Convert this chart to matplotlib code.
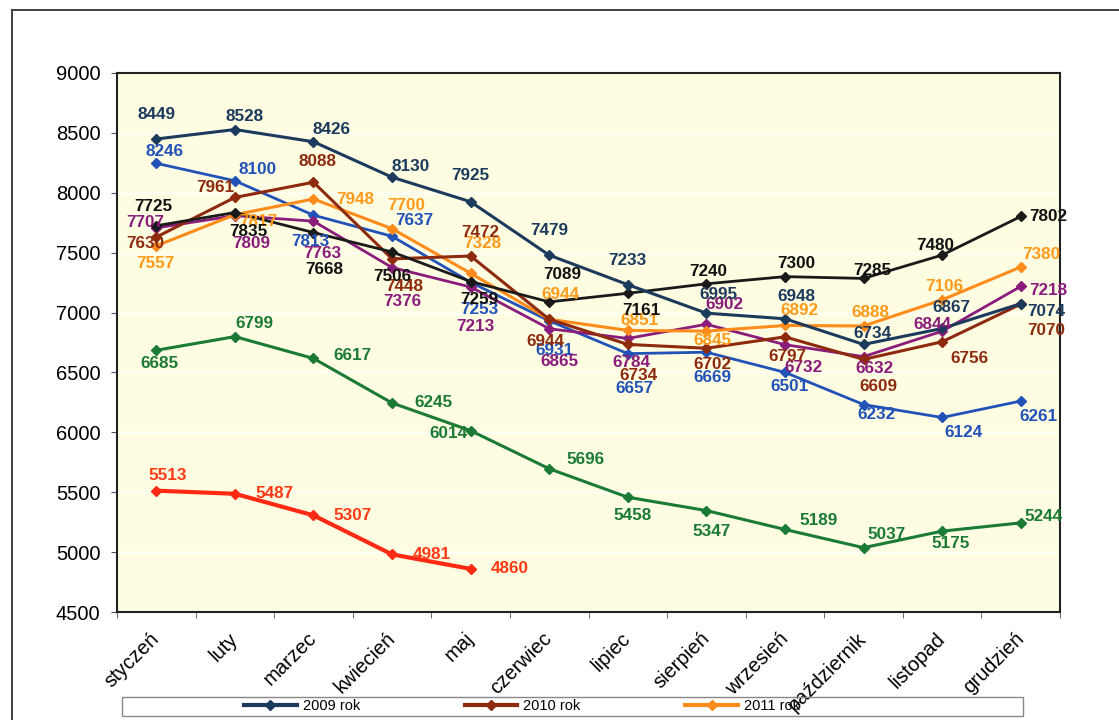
import matplotlib.pyplot as plt
from matplotlib.lines import Line2D
from matplotlib.patches import Rectangle

plt.rcParams['font.family'] = ['Liberation Sans', 'DejaVu Sans']

months = ["styczeń", "luty", "marzec", "kwiecień", "maj", "czerwiec", "lipiec",
          "sierpień", "wrzesień", "październik", "listopad", "grudzień"]

navy_2009 = [8449, 8528, 8426, 8130, 7925, 7479, 7233, 6995, 6948, 6734, 6867, 7074]
brown_2010 = [7630, 7961, 8088, 7448, 7472, 6944, 6734, 6702, 6797, 6609, 6756, 7070]
orange_2011 = [7557, 7817, 7948, 7700, 7328, 6944, 6851, 6845, 6892, 6888, 7106, 7380]
black_s = [7725, 7835, 7668, 7506, 7259, 7089, 7161, 7240, 7300, 7285, 7480, 7802]
blue_s = [8246, 8100, 7813, 7637, 7253, 6931, 6657, 6669, 6501, 6232, 6124, 6261]
purple_s = [7707, 7809, 7763, 7376, 7213, 6865, 6784, 6902, 6732, 6632, 6844, 7218]
green_s = [6685, 6799, 6617, 6245, 6014, 5696, 5458, 5347, 5189, 5037, 5175, 5244]
red_s = [5513, 5487, 5307, 4981, 4860]

# label offsets in pixels (dx, up)
off_navy = [(0, 24), (10, 13), (18, 12), (19, 11), (0, 26), (0, 25), (0, 24),
            (12, 19), (11, 22), (9, 11), (9, 21), (26, -8)]
off_brown = [(-11, -6), (-20, 10), (4, 21), (12, -28), (10, 24), (-4, -22), (11, -31),
             (6, -16), (2, -20), (15, -27), (27, -17), (26, -26)]
off_orange = [(-1, -18), (23, -7), (42, 0), (14, 23), (12, 30), (11, 25), (12, 10),
              (6, -9), (14, 15), (7, 13), (2, 13), (21, 13)]
off_black = [(-3, 19), (13, -19), (11, -37), (0, -25), (9, -18), (13, 27), (14, -17),
             (2, 12), (11, 13), (9, 8), (-7, 10), (28, 0)]
off_blue = [(8, 12), (23, 11), (-3, -26), (22, 16), (9, -27), (5, -30), (7, -35),
            (6, -25), (5, -14), (13, -10), (21, -15), (18, -15)]
off_purple = [(-11, 5), (16, -28), (9, -32), (10, -34), (5, -39), (10, -33), (4, -24),
              (18, 20), (18, -23), (11, -12), (-10, 7), (28, -4)]
off_green = [(3, -13), (19, 13), (39, 3), (41, 0), (-22, -3), (36, 9), (5, -18),
             (5, -21), (34, 9), (23, 13), (8, -12), (23, 6)]
off_red = [(11, 15), (40, 0), (39, 0), (40, 0), (39, 0)]

series = [
    (green_s, "#1b7a36", "#1b7a36", off_green, 2.2),
    (red_s, "#ff2a14", "#ff3a14", off_red, 3.0),
    (blue_s, "#2152b8", "#2152b8", off_blue, 2.0),
    (purple_s, "#8a1c7c", "#8a1c7c", off_purple, 2.0),
    (orange_2011, "#ff8c1a", "#ff9a1a", off_orange, 2.2),
    (brown_2010, "#8e2a0e", "#8e2a0e", off_brown, 2.2),
    (black_s, "#1a1a1a", "#111111", off_black, 2.0),
    (navy_2009, "#1b3a5c", "#1b3a5c", off_navy, 2.2),
]

fig = plt.figure(figsize=(11.19, 7.2), dpi=100)
ax = fig.add_axes([117 / 1119, 1 - 612 / 720, (1060 - 117) / 1119, (612 - 73) / 720])
ax.set_facecolor("#fefde2")

for vals, col, tcol, offs, lw in series:
    x = list(range(len(vals)))
    ax.plot(x, vals, color=col, lw=lw, marker="D", ms=5, zorder=3)
    for i, v in enumerate(vals):
        dx, up = offs[i]
        ax.annotate(str(v), (i, v), xytext=(dx, up), textcoords="offset pixels",
                    ha="center", va="center", fontsize=12.3, fontweight="bold",
                    color=tcol, zorder=4)

ax.set_ylim(4500, 9000)
ax.set_yticks(range(4500, 9001, 500))
ax.set_xlim(-0.5, 11.5)
ax.set_xticks(range(12))
ax.set_xticklabels(months, rotation=45, ha="right", va="center",
                   rotation_mode="anchor", fontsize=14.5)
ax.set_xticks([i - 0.5 for i in range(13)], minor=True)
ax.tick_params(axis="x", which="major", length=0, pad=17)
ax.tick_params(axis="x", which="minor", length=4, direction="out", color="#555555")
ax.tick_params(axis="y", labelsize=14.5, length=4, pad=8, color="#555555")
ax.grid(axis="y", color="white", lw=1)
ax.set_axisbelow(True)
for s in ax.spines.values():
    s.set_linewidth(1.5)
    s.set_color("#222222")

# outer frame
fig.add_artist(Line2D([12 / 1119, 12 / 1119], [0, 1 - 10 / 720], color="#333333", lw=1.3))
fig.add_artist(Line2D([12 / 1119, 1], [1 - 10 / 720, 1 - 10 / 720], color="#333333", lw=1.3))

# legend box
fig.add_artist(Rectangle((122 / 1119, 1 - 716 / 720), (1023 - 122) / 1119, 19 / 720,
                         transform=fig.transFigure, fill=False, ec="#888888", lw=1))
handles = [
    Line2D([], [], color="#1b3a5c", lw=3, marker="D", ms=5, label="2009 rok"),
    Line2D([], [], color="#8e2a0e", lw=3, marker="D", ms=5, label="2010 rok"),
    Line2D([], [], color="#ff8c1a", lw=3, marker="D", ms=5, label="2011 rok"),
]
fig.legend(handles=handles, loc="center", bbox_to_anchor=(522 / 1119, 1 - 706.5 / 720),
           ncol=3, frameon=False, fontsize=10.5, handlelength=3.6, columnspacing=7.2,
           handletextpad=0.4, borderpad=0)

fig.savefig("out.png", dpi=100)
